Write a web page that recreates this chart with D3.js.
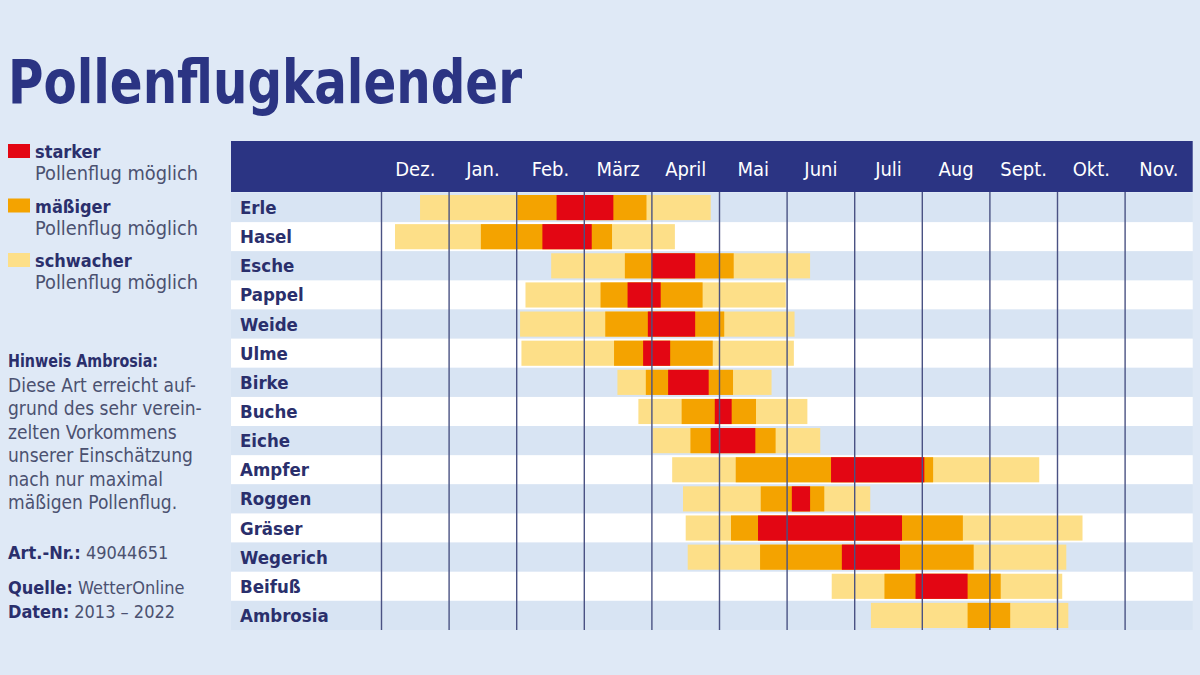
<!DOCTYPE html>
<html><head><meta charset="utf-8">
<script src="https://cdn.jsdelivr.net/npm/d3@7"></script>
<style>
html,body{margin:0;padding:0;background:#dfe9f6;}
svg{display:block;}
</style></head>
<body>
<svg id="chart" width="1200" height="675"></svg>
<script>
// ---- data (month units: 0 = start of Dez., 12 = end of Nov.) ----
const months = ["Dez.","Jan.","Feb.","März","April","Mai","Juni","Juli","Aug","Sept.","Okt.","Nov."];
const species = ["Erle","Hasel","Esche","Pappel","Weide","Ulme","Birke","Buche","Eiche","Ampfer","Roggen","Gräser","Wegerich","Beifuß","Ambrosia"];
const weakStart     = [0.57,0.20,2.51,2.13,2.05,2.07,3.49,3.80,4.01,4.30,4.46,4.50,4.53,6.66,7.24];
const weakEnd       = [4.87,4.34,6.34,5.98,6.11,6.10,5.77,6.30,6.49,9.73,7.23,10.37,10.13,10.07,10.16];
const moderateStart = [2.01,1.47,3.60,3.24,3.31,3.44,3.91,4.44,4.57,5.24,5.61,5.17,5.60,7.44,8.67];
const moderateEnd   = [3.92,3.41,5.21,4.75,5.07,4.90,5.20,5.54,5.83,8.16,6.55,8.60,8.76,9.16,9.30];
const strongStart   = [2.59,2.38,4.00,3.64,3.94,3.87,4.24,4.93,4.87,6.65,6.07,5.57,6.81,7.90,null];
const strongEnd     = [3.43,3.11,4.64,4.13,4.64,4.27,4.84,5.18,5.53,8.03,6.34,7.70,7.67,8.67,null];

const legendItems = [
  {label:"starker", level:"strong"},
  {label:"mäßiger", level:"moderate"},
  {label:"schwacher", level:"weak"}
];
const noteLines = ["Diese Art erreicht auf-","grund des sehr verein-","zelten Vorkommens","unserer Einschätzung","nach nur maximal","mäßigen Pollenflug."];

// ---- styles ----
const colors = {strong:"#e30613", moderate:"#f4a300", weak:"#fddf88"};
const navy = "#2b3483";
const textNavy = "#2a2f6c";
const greyText = "#4b5170";
const condBold = "'DejaVu Sans Condensed','DejaVu Sans',sans-serif";
const cond = "'Liberation Sans Narrow','DejaVu Sans Condensed',sans-serif";

const svg = d3.select("#chart");
svg.append("rect").attr("width",1200).attr("height",675).attr("fill","#dfe9f6");

// Title
svg.append("text").attr("x",8).attr("y",103)
  .attr("font-family",condBold).attr("font-weight","bold").attr("font-size",60)
  .attr("fill",navy).attr("textLength",514).attr("lengthAdjust","spacingAndGlyphs")
  .text("Pollenflugkalender");

// Scales
const x = d3.scaleLinear().domain([0,12]).range([381.5,1192.7]);
const y = d3.scaleBand().domain(species).range([193,630]).padding(0);
const left = 231, right = 1192.7;

// Header band
svg.append("rect").attr("x",left).attr("y",141).attr("width",right-left).attr("height",51).attr("fill",navy);
svg.append("g").selectAll("text").data(months).join("text")
  .attr("x",(d,i)=>x(i+0.5)).attr("y",176).attr("text-anchor","middle")
  .attr("font-family",cond).attr("font-size",20).attr("fill","#ffffff")
  .text(d=>d);

// Row stripes
svg.append("g").selectAll("rect").data(species).join("rect")
  .attr("x",left).attr("y",d=>y(d)).attr("width",right-left).attr("height",y.bandwidth())
  .attr("fill",(d,i)=>i%2===0?"#d8e4f3":"#ffffff");

// Bars
const bh = y.bandwidth()-4;
function layer(starts, ends, col){
  svg.append("g").selectAll("rect").data(species.map((s,i)=>({s,a:starts[i],b:ends[i]})).filter(d=>d.a!=null))
    .join("rect")
    .attr("x",d=>x(d.a)).attr("width",d=>x(d.b)-x(d.a))
    .attr("y",d=>y(d.s)+2).attr("height",bh).attr("fill",col);
}
layer(weakStart,weakEnd,colors.weak);
layer(moderateStart,moderateEnd,colors.moderate);
layer(strongStart,strongEnd,colors.strong);

// Month grid lines
svg.append("g").selectAll("line").data(d3.range(12)).join("line")
  .attr("x1",d=>x(d)).attr("x2",d=>x(d)).attr("y1",192).attr("y2",630)
  .attr("stroke","#4a5283").attr("stroke-width",1.4);

// Species labels
svg.append("g").selectAll("text").data(species).join("text")
  .attr("x",240).attr("y",d=>y(d)+y.bandwidth()/2+6.5)
  .attr("font-family",condBold).attr("font-weight","bold").attr("font-size",18.5)
  .attr("fill",textNavy).text(d=>d);

// Legend
const lg = svg.append("g");
legendItems.forEach((d,i)=>{
  const yy = 144 + i*54.5;
  lg.append("rect").attr("x",8).attr("y",yy).attr("width",22).attr("height",14).attr("fill",colors[d.level]);
  lg.append("text").attr("x",35).attr("y",yy+14).attr("font-family",condBold).attr("font-weight","bold")
    .attr("font-size",18).attr("fill",textNavy).text(d.label);
  lg.append("text").attr("x",35).attr("y",yy+36).attr("font-family",cond)
    .attr("font-size",19).attr("fill",greyText).attr("textLength",163).attr("lengthAdjust","spacingAndGlyphs")
    .text("Pollenflug möglich");
});

// Note
svg.append("text").attr("x",8).attr("y",367).attr("font-family",condBold).attr("font-weight","bold")
  .attr("font-size",17).attr("fill",textNavy).attr("textLength",150).attr("lengthAdjust","spacingAndGlyphs")
  .text("Hinweis Ambrosia:");
svg.append("g").selectAll("text").data(noteLines).join("text")
  .attr("x",8).attr("y",(d,i)=>392+i*23.4)
  .attr("font-family",cond).attr("font-size",19).attr("fill",greyText)
  .text(d=>d);

function kv(yy,k,v){
  const t = svg.append("text").attr("x",8).attr("y",yy).attr("font-size",18);
  t.append("tspan").attr("font-family",condBold).attr("font-weight","bold").attr("fill",textNavy).text(k);
  t.append("tspan").attr("font-family",cond).attr("fill",greyText).text(" "+v);
}
kv(559,"Art.-Nr.:","49044651");
kv(594,"Quelle:","WetterOnline");
kv(618,"Daten:","2013 – 2022");
</script>
</body></html>
